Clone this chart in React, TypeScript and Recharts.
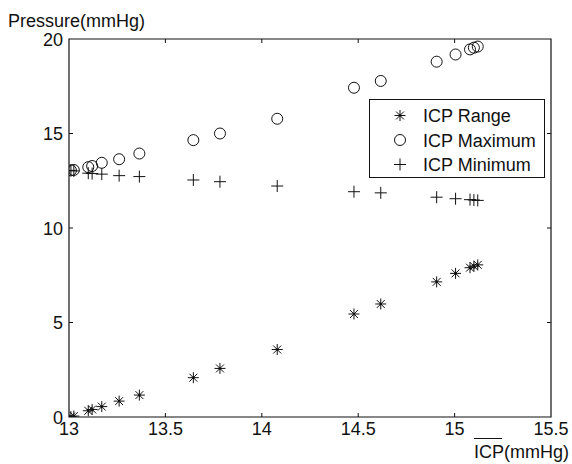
import {
  ScatterChart,
  Scatter,
  XAxis,
  YAxis,
  ReferenceArea,
  Legend,
  Label,
} from "recharts";

// mean ICP per window (x) and the derived pressures (y)
const icpMean = [
  13.01, 13.025, 13.1, 13.12, 13.17, 13.26, 13.365, 13.645, 13.783, 14.08,
  14.478, 14.617, 14.907, 15.005, 15.08, 15.1, 15.12,
];
const icpRange = [
  0.02, 0.05, 0.33, 0.4, 0.55, 0.84, 1.16, 2.08, 2.57, 3.57, 5.45, 5.98, 7.15,
  7.6, 7.9, 7.98, 8.05,
];
const icpMaximum = [
  13.05, 13.07, 13.22, 13.28, 13.45, 13.64, 13.94, 14.65, 15.0, 15.78, 17.42,
  17.78, 18.8, 19.18, 19.45, 19.54, 19.6,
];
const icpMinimum = [
  13.05, 13.02, 12.9, 12.88, 12.85, 12.77, 12.72, 12.54, 12.45, 12.22, 11.92,
  11.86, 11.63, 11.55, 11.5, 11.48, 11.46,
];
const xTicks = [13, 13.5, 14, 14.5, 15, 15.5];
const yTicks = [0, 5, 10, 15, 20];

const W = 572;
const H = 464;
const PLOT = { left: 69, top: 39, right: 551, bottom: 417 };
const FONT = "'Liberation Sans', Arial, Helvetica, sans-serif";
const INK = "#111";

const rangeData = icpMean.map((x, i) => ({ x, y: icpRange[i] }));
const maxData = icpMean.map((x, i) => ({ x, y: icpMaximum[i] }));
const minData = icpMean.map((x, i) => ({ x, y: icpMinimum[i] }));

function Star({ cx, cy }: { cx: number; cy: number }) {
  const r = 5.5;
  const d = r * 0.72;
  return (
    <g stroke={INK} strokeWidth={1}>
      <line x1={cx - r} y1={cy} x2={cx + r} y2={cy} />
      <line x1={cx} y1={cy - r} x2={cx} y2={cy + r} />
      <line x1={cx - d} y1={cy - d} x2={cx + d} y2={cy + d} />
      <line x1={cx - d} y1={cy + d} x2={cx + d} y2={cy - d} />
      <circle cx={cx} cy={cy} r={1.3} fill={INK} stroke="none" />
    </g>
  );
}

function Ring({ cx, cy }: { cx: number; cy: number }) {
  return <circle cx={cx} cy={cy} r={5.5} fill="none" stroke={INK} strokeWidth={1} />;
}

function Plus({ cx, cy }: { cx: number; cy: number }) {
  const r = 6;
  return (
    <g stroke={INK} strokeWidth={1}>
      <line x1={cx - r} y1={cy} x2={cx + r} y2={cy} />
      <line x1={cx} y1={cy - r} x2={cx} y2={cy + r} />
    </g>
  );
}

function XTick(props: any) {
  const { x, payload } = props;
  const inner = x > PLOT.left + 1 && x < PLOT.right - 1;
  return (
    <g>
      {inner && (
        <>
          <line x1={x} y1={PLOT.bottom} x2={x} y2={PLOT.bottom - 4} stroke={INK} />
          <line x1={x} y1={PLOT.top} x2={x} y2={PLOT.top + 4} stroke={INK} />
        </>
      )}
      <text x={x} y={PLOT.bottom + 18} textAnchor="middle" fontSize={18} fontFamily={FONT} fill={INK}>
        {payload.value}
      </text>
    </g>
  );
}

function YTick(props: any) {
  const { y, payload } = props;
  const inner = y > PLOT.top + 1 && y < PLOT.bottom - 1;
  return (
    <g>
      {inner && (
        <>
          <line x1={PLOT.left} y1={y} x2={PLOT.left + 4} y2={y} stroke={INK} />
          <line x1={PLOT.right} y1={y} x2={PLOT.right - 4} y2={y} stroke={INK} />
        </>
      )}
      <text x={PLOT.left - 6} y={y + 6.5} textAnchor="end" fontSize={18} fontFamily={FONT} fill={INK}>
        {payload.value}
      </text>
    </g>
  );
}

const legendItems = [
  { name: "ICP Range", Marker: Star },
  { name: "ICP Maximum", Marker: Ring },
  { name: "ICP Minimum", Marker: Plus },
];

function LegendBox() {
  return (
    <svg width={176} height={79} style={{ display: "block" }}>
      <rect x={0.5} y={0.5} width={175} height={78} fill="#fff" stroke={INK} />
      {legendItems.map(({ name, Marker }, i) => {
        const cy = 16.5 + i * 24.5;
        return (
          <g key={name}>
            <Marker cx={31} cy={cy} />
            <text x={54} y={cy + 6.5} fontSize={18} fontFamily={FONT} fill={INK}>
              {name}
            </text>
          </g>
        );
      })}
    </svg>
  );
}

export default function App() {
  return (
    <div style={{ position: "absolute", left: 0, top: 0, width: W, height: H, background: "#fff" }}>
      <ScatterChart
        width={W}
        height={H}
        margin={{ top: PLOT.top, right: W - PLOT.right, bottom: H - PLOT.bottom - 30, left: PLOT.left - 60 }}
      >
        <XAxis
          dataKey="x"
          type="number"
          domain={[13, 15.5]}
          ticks={xTicks}
          allowDataOverflow
          height={30}
          axisLine={false}
          tickLine={false}
          tickSize={0}
          tickMargin={0}
          tick={<XTick />}
          interval={0}
        >
          <Label
            content={() => (
              <g>
                <line x1={474} y1={438.5} x2={502} y2={438.5} stroke={INK} />
                <text x={474} y={458} fontSize={18} fontFamily={FONT} fill={INK}>
                  ICP(mmHg)
                </text>
              </g>
            )}
          />
        </XAxis>
        <YAxis
          dataKey="y"
          type="number"
          domain={[0, 20]}
          ticks={yTicks}
          allowDataOverflow
          width={60}
          axisLine={false}
          tickLine={false}
          tickSize={0}
          tickMargin={0}
          tick={<YTick />}
          interval={0}
        >
          <Label
            content={() => (
              <text x={8} y={27} fontSize={18} fontFamily={FONT} fill={INK}>
                Pressure(mmHg)
              </text>
            )}
          />
        </YAxis>
        <ReferenceArea x1={13} x2={15.5} y1={0} y2={20} fill="none" stroke={INK} strokeWidth={1.2} />
        <Scatter
          name="ICP Range"
          data={rangeData}
          isAnimationActive={false}
          shape={(p: any) => <Star cx={p.cx} cy={p.cy} />}
        />
        <Scatter
          name="ICP Maximum"
          data={maxData}
          isAnimationActive={false}
          shape={(p: any) => <Ring cx={p.cx} cy={p.cy} />}
        />
        <Scatter
          name="ICP Minimum"
          data={minData}
          isAnimationActive={false}
          shape={(p: any) => <Plus cx={p.cx} cy={p.cy} />}
        />
        <Legend
          layout="horizontal"
          verticalAlign="middle"
          align="center"
          wrapperStyle={{ left: 369, top: 99, width: 176, height: 79 }}
          content={() => <LegendBox />}
        />
      </ScatterChart>
    </div>
  );
}
